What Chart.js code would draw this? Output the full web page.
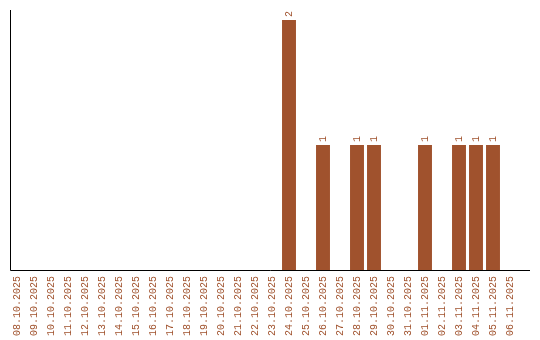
<!DOCTYPE html>
<html>
<head>
<meta charset="utf-8">
<script src="https://cdn.jsdelivr.net/npm/chart.js@4/dist/chart.umd.min.js"></script>
<style>
  html, body { margin: 0; padding: 0; background: #fff; }
  #wrap { width: 540px; height: 340px; }
</style>
</head>
<body>
<div id="wrap"><canvas id="chart" width="540" height="340"></canvas></div>
<script>
const dates = [
  "08.10.2025", "09.10.2025", "10.10.2025", "11.10.2025", "12.10.2025",
  "13.10.2025", "14.10.2025", "15.10.2025", "16.10.2025", "17.10.2025",
  "18.10.2025", "19.10.2025", "20.10.2025", "21.10.2025", "22.10.2025",
  "23.10.2025", "24.10.2025", "25.10.2025", "26.10.2025", "27.10.2025",
  "28.10.2025", "29.10.2025", "30.10.2025", "31.10.2025", "01.11.2025",
  "02.11.2025", "03.11.2025", "04.11.2025", "05.11.2025", "06.11.2025"
];
const counts = [
  0, 0, 0, 0, 0, 0, 0, 0, 0, 0,
  0, 0, 0, 0, 0, 0, 2, 0, 1, 0,
  1, 1, 0, 0, 1, 0, 1, 1, 1, 0
];

const brown = "#a0522d";
const mono = "'Liberation Mono', monospace";

// axis lines on left and bottom, drawn by hand so they can run past the bars
const axisLines = {
  id: "axisLines",
  afterDraw(chart) {
    const ctx = chart.ctx;
    const area = chart.chartArea;
    ctx.save();
    ctx.strokeStyle = "#000";
    ctx.lineWidth = 1;
    ctx.beginPath();
    ctx.moveTo(10.5, area.top);
    ctx.lineTo(10.5, area.bottom + 0.5);
    ctx.lineTo(530, area.bottom + 0.5);
    ctx.stroke();
    ctx.restore();
  }
};

// rotated value labels above each non-zero bar
const valueLabels = {
  id: "valueLabels",
  afterDatasetsDraw(chart) {
    const ctx = chart.ctx;
    const meta = chart.getDatasetMeta(0);
    ctx.save();
    ctx.fillStyle = brown;
    ctx.font = "10px " + mono;
    ctx.textAlign = "left";
    ctx.textBaseline = "middle";
    meta.data.forEach((bar, i) => {
      const v = counts[i];
      if (!v) return;
      ctx.save();
      ctx.translate(bar.x, bar.y - 3);
      ctx.rotate(-Math.PI / 2);
      ctx.fillText(String(v), 0, 0);
      ctx.restore();
    });
    ctx.restore();
  }
};

new Chart(document.getElementById("chart"), {
  type: "bar",
  data: {
    labels: dates,
    datasets: [{
      data: counts,
      backgroundColor: brown,
      borderWidth: 0,
      categoryPercentage: 1,
      barPercentage: 0.82
    }]
  },
  options: {
    responsive: false,
    animation: false,
    layout: { padding: { top: 10, left: 8.5, right: 21.5, bottom: 0 } },
    plugins: { legend: { display: false }, tooltip: { enabled: false } },
    scales: {
      x: {
        grid: { display: false, drawTicks: false },
        border: { display: false },
        ticks: {
          color: brown,
          font: { family: mono, size: 10 },
          minRotation: 90,
          maxRotation: 90,
          autoSkip: false,
          padding: 6
        },
        afterFit(scale) { scale.height = 70; }
      },
      y: {
        display: false,
        min: 0,
        max: 2.08
      }
    }
  },
  plugins: [axisLines, valueLabels]
});
</script>
</body>
</html>
